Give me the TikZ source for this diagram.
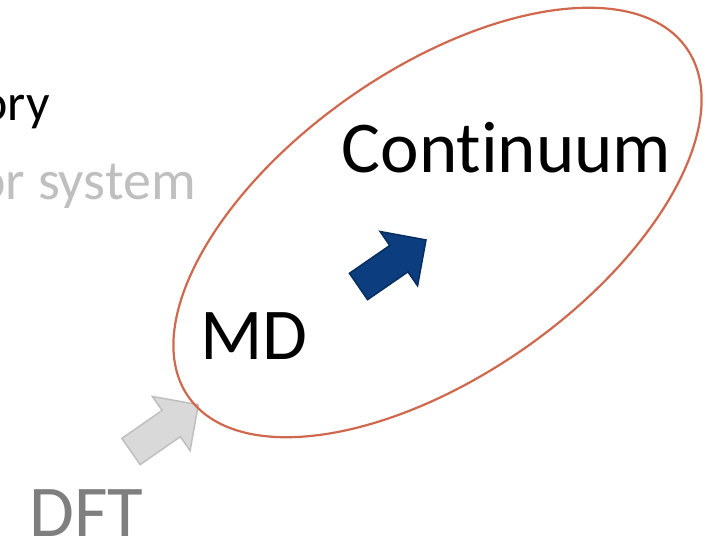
\documentclass[tikz,border=0pt]{standalone}
\usepackage{fontspec}
\setmainfont{Carlito}[Ligatures=NoCommon]
\definecolor{ringred}{RGB}{208,104,78}
\definecolor{blockblue}{RGB}{12,61,126}
\definecolor{blockblueline}{RGB}{8,45,95}
\definecolor{lightgrayfill}{RGB}{217,217,217}
\definecolor{lightgrayline}{RGB}{191,191,191}
\definecolor{midgray}{RGB}{127,127,127}
\begin{document}
\begin{tikzpicture}[x=1pt,y=1pt,
  bigtext/.style={inner sep=0pt, font=\fontsize{73}{88}\selectfont},
  blockarrow/.style={line width=1.5pt, line join=miter}]
\useasboundingbox (0,0) rectangle (723,540);
\clip (0,0) rectangle (723,540);
% partial texts at left
\node[inner sep=0pt, font=\fontsize{52}{62}\selectfont, anchor=base east, text=black] (theory) at (50,419) {ory};
\node[inner sep=0pt, font=\fontsize{56}{67}\selectfont, anchor=base east, text=lightgrayline] (system) at (196,340) {or system};
% gray block arrow
\begin{scope}[shift={(131,88.5)}, rotate=34.8]
  \draw[blockarrow, fill=lightgrayfill, draw=lightgrayline]
    (0,-16) -- (49,-16) -- (49,-33) -- (82,0) -- (49,33) -- (49,16) -- (0,16) -- cycle;
\end{scope}
% ellipse
\draw[ringred, line width=2.2pt, rotate around={35:(437.5,317.5)}] (437.5,317.5) ellipse [x radius=304, y radius=153];
% blue block arrow
\begin{scope}[shift={(358.5,253.5)}, rotate=34.6]
  \draw[blockarrow, fill=blockblue, draw=blockblueline]
    (0,-16) -- (49,-16) -- (49,-33) -- (82,0) -- (49,33) -- (49,16) -- (0,16) -- cycle;
\end{scope}
% labels
\node[bigtext, anchor=base west] (cont) at (341.5,367) {Continuum};
\node[bigtext, anchor=base west] (md) at (200,180) {MD};
\node[bigtext, anchor=base west, text=midgray] (dft) at (29,3) {DFT};
\end{tikzpicture}
\end{document}
